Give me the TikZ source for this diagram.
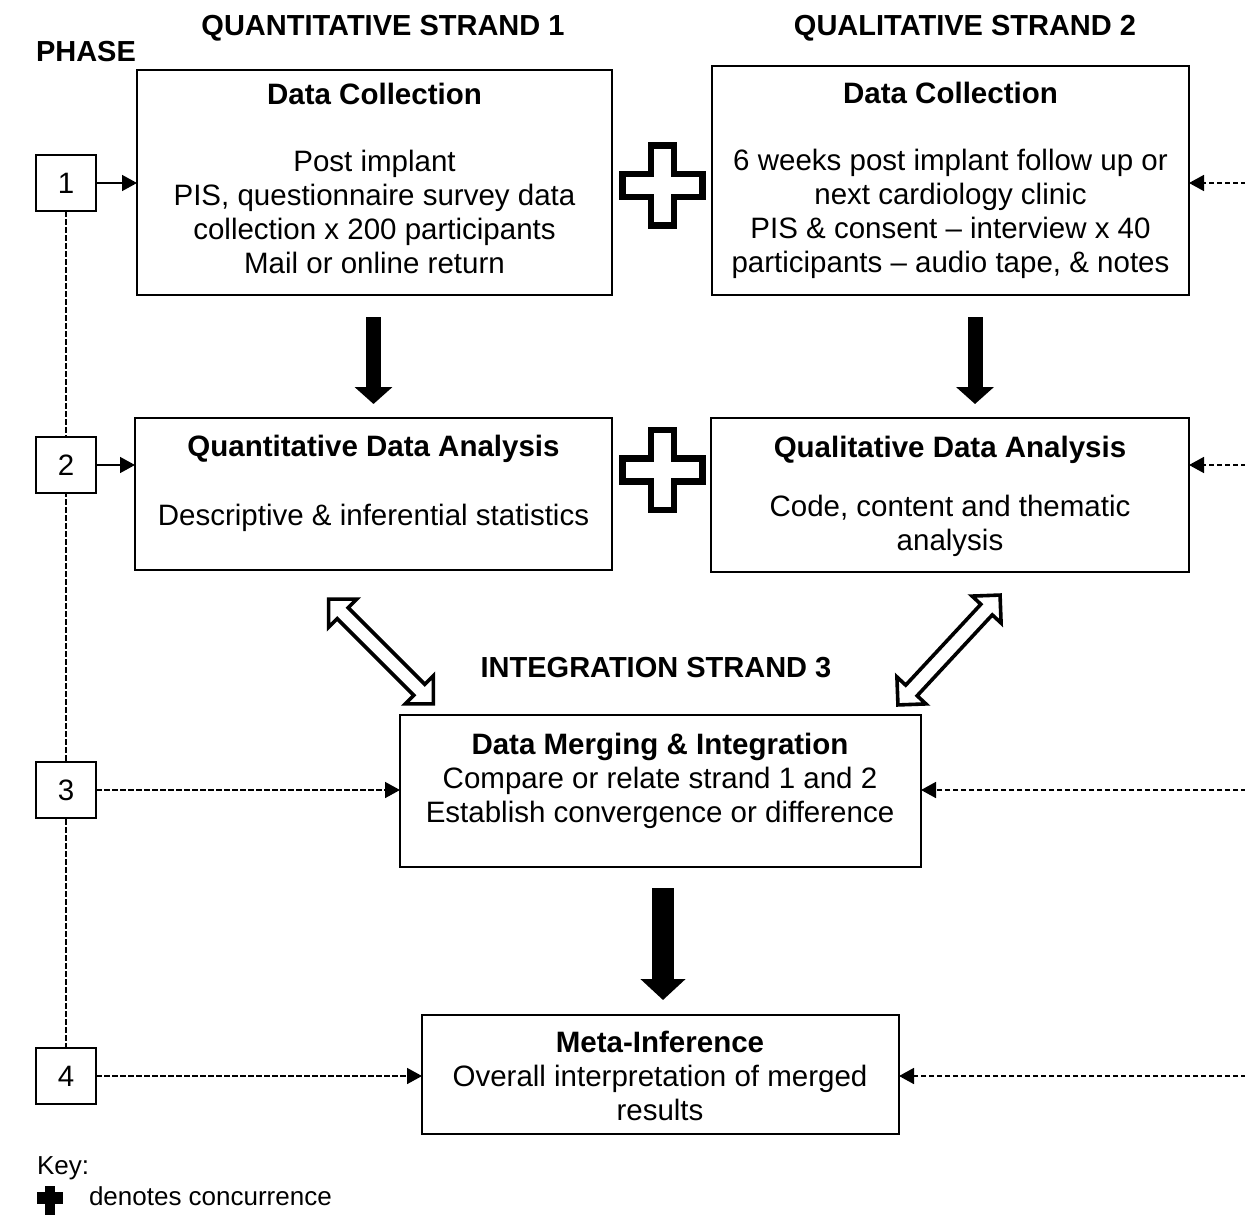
\documentclass[tikz,border=0pt]{standalone}
\usepackage{fontspec}
\setmainfont{Liberation Sans}
\usetikzlibrary{arrows.meta,shapes.arrows,calc}

\begin{document}
\begin{tikzpicture}[x=1pt,y=-1pt,
  every node/.style={inner sep=0pt, outer sep=0pt},
  txt/.style={font=\fontsize{29.5}{34}\selectfont, align=center, anchor=north},
  head/.style={font=\fontsize{29}{34}\selectfont\bfseries, anchor=center},
  box/.style={draw, line width=1.8pt, fill=white, anchor=north west},
  phasebox/.style={draw, line width=1.8pt, fill=white, minimum width=60pt,
    minimum height=56pt, font=\fontsize{29.5}{34}\selectfont},
  solidlink/.style={line width=1.5pt, -{Triangle[length=15pt,width=16pt]}},
  dashlink/.style={line width=1.6pt, dash pattern=on 5.5pt off 2.5pt,
    -{Triangle[length=15pt,width=16pt]}},
  downarrow/.style={line width=15pt, -{Triangle[length=17pt,width=37pt]}},
  bigdown/.style={line width=22pt, -{Triangle[length=21pt,width=44pt]}},
  twoway/.style={double arrow, draw, fill=white, line width=3.6pt,
    inner sep=6pt, double arrow head extend=12pt, minimum width=10pt},
  concur/.pic={
    \draw[line width=6.5pt, miter limit=10]
      (-11.5,-40) -- (11.5,-40) -- (11.5,-11.5) -- (40,-11.5) -- (40,11.5)
      -- (11.5,11.5) -- (11.5,40) -- (-11.5,40) -- (-11.5,11.5) -- (-40,11.5)
      -- (-40,-11.5) -- (-11.5,-11.5) -- cycle;
  }]
\useasboundingbox (0,0) rectangle (1245,1215);

% column and row headings
\node[head, anchor=west] (phase) at (36,52) {PHASE};
\node[head] (quanthead) at (383,28) {QUANTITATIVE STRAND 1};
\node[head] (qualhead) at (965,28) {QUALITATIVE STRAND 2};
\node[head] (inthead) at (656,668) {INTEGRATION STRAND 3};

% main boxes
\node[box, minimum width=475pt, minimum height=225pt] (dc1) at (137,70) {};
\node[box, minimum width=477pt, minimum height=229pt] (dc2) at (712,66) {};
\node[box, minimum width=477pt, minimum height=152pt] (da1) at (135,418) {};
\node[box, minimum width=478pt, minimum height=154pt] (da2) at (711,418) {};
\node[box, minimum width=521pt, minimum height=152pt] (mg) at (400,715) {};
\node[box, minimum width=477pt, minimum height=119pt] (mi) at (422,1015) {};

% box texts
\node[txt] (dc1t) at (374.5,83) {\textbf{Data Collection}\\[33pt]
  Post implant\\PIS, questionnaire survey data\\collection x 200 participants\\Mail or online return};
\node[txt] (dc2t) at (950.5,82) {\textbf{Data Collection}\\[33pt]
  6 weeks post implant follow up or\\next cardiology clinic\\PIS \& consent – interview x 40\\participants – audio tape, \& notes};
\node[txt] (da1t) at (373.5,435) {\textbf{Quantitative Data Analysis}\\[35pt]
  Descriptive \& inferential statistics};
\node[txt] (da2t) at (950,436) {\textbf{Qualitative Data Analysis}\\[25pt]
  Code, content and thematic\\analysis};
\node[txt] (mgt) at (660,733) {\textbf{Data Merging \& Integration}\\
  Compare or relate strand 1 and 2\\Establish convergence or difference};
\node[txt] (mit) at (660,1031) {\textbf{Meta-Inference}\\
  Overall interpretation of merged\\results};

% phase column
\draw[line width=1.6pt, dash pattern=on 5.5pt off 2.5pt] (66,211) -- (66,1048);
\node[phasebox] (p1) at (66,183) {1};
\node[phasebox] (p2) at (66,465) {2};
\node[phasebox] (p3) at (66,790) {3};
\node[phasebox] (p4) at (66,1076) {4};

\draw[solidlink] (p1.east) -- (p1.east -| dc1.west);
\draw[solidlink] (p2.east) -- (p2.east -| da1.west);
\draw[dashlink] (p3.east) -- (p3.east -| mg.west);
\draw[dashlink] (p4.east) -- (p4.east -| mi.west);

% dashed arrows entering from the right margin
\coordinate (r1) at (1246,183);
\coordinate (r2) at (1246,465);
\coordinate (r3) at (1246,790);
\coordinate (r4) at (1246,1076);
\draw[dashlink] (r1) -- (r1 -| dc2.east);
\draw[dashlink] (r2) -- (r2 -| da2.east);
\draw[dashlink] (r3) -- (r3 -| mg.east);
\draw[dashlink] (r4) -- (r4 -| mi.east);

% concurrence crosses
\pic at (662.5,185.5) {concur};
\pic at (662.5,470) {concur};

% flow arrows
\coordinate (a1s) at (373.5,317);
\coordinate (a1e) at (373.5,404);
\coordinate (a2s) at (975,317);
\coordinate (a2e) at (975,404);
\coordinate (a3s) at (663,888);
\coordinate (a3e) at (663,1000);
\draw[downarrow] (a1s) -- (a1e);
\draw[downarrow] (a2s) -- (a2e);
\draw[bigdown] (a3s) -- (a3e);

% two-way links into the merging step
\node[twoway, minimum height=148pt, rotate=-45] (lnk1) at (381,651.5) {};
\node[twoway, minimum height=150pt, rotate=47.1] (lnk2) at (949,650) {};

% key
\node[anchor=base west, font=\fontsize{26}{30}\selectfont] (keyt) at (37,1174) {Key:};
\fill (45,1186) rectangle (55,1216);
\fill (37,1192) rectangle (63,1204);
\node[anchor=base west, font=\fontsize{26}{30}\selectfont] (keyd) at (89,1205) {denotes concurrence};
\end{tikzpicture}
\end{document}
